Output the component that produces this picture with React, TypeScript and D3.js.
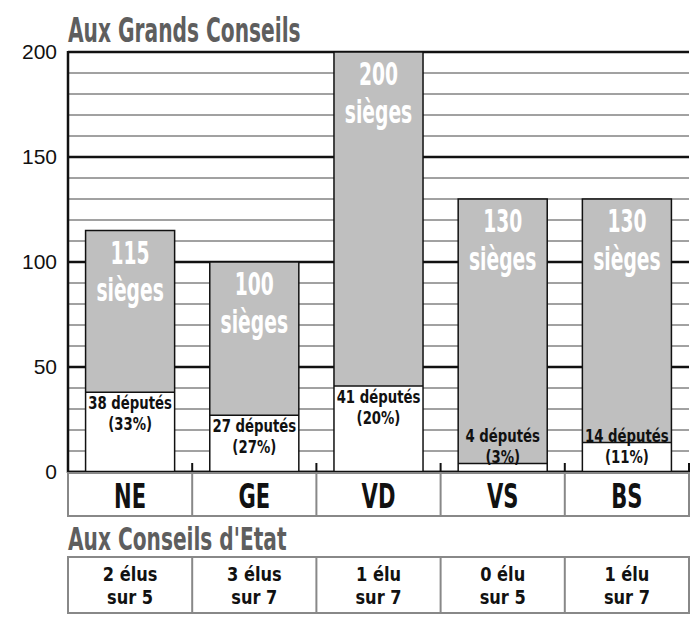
import React from 'react';
import * as d3 from 'd3';

// données
const cantons = ['NE', 'GE', 'VD', 'VS', 'BS'];
const sieges = [115, 100, 200, 130, 130];
const deputes = [38, 27, 41, 4, 14];
const pourcents = ['33%', '27%', '20%', '3%', '11%'];
const elus = [2, 3, 1, 0, 1];
const surTotal = [5, 7, 7, 5, 7];
const yTicks = [0, 50, 100, 150, 200];
const yMinor = d3.range(0, 201, 10);

const W = 692;
const H = 619;
const margin = { left: 68, right: 3, top: 52, bottom: 147 };
const FONT = '"DejaVu Sans Condensed", "DejaVu Sans", sans-serif';

// texte écrasé horizontalement (police "manuscrite" étroite), une ou deux lignes
const Cond = ({ x, y, sx, size, fill = '#111', anchor = 'middle', lines, gap = 0 }) => (
  <text
    transform={`translate(${x},${y}) scale(${sx},1)`}
    textAnchor={anchor}
    fontFamily={FONT}
    fontWeight="bold"
    fontSize={size}
    fill={fill}
  >
    {lines.map((l, k) => (
      <tspan key={k} x={0} dy={k === 0 ? 0 : gap}>{l}</tspan>
    ))}
  </text>
);

export default function App() {
  const x = d3.scaleBand().domain(cantons).range([margin.left, W - margin.right]).padding(0);
  const y = d3.scaleLinear().domain([0, 200]).range([H - margin.bottom, margin.top]);
  const bw = x.bandwidth();
  const barW = bw * 0.717;
  const base = y(0);
  const x0 = margin.left;
  const x1 = W - margin.right;

  return (
    <svg width={W} height={H} style={{ position: 'absolute', left: 0, top: 0, background: '#fff' }}>
      {/* titre */}
      <Cond x={x0} y={42} sx={0.66} size={34} fill="#5e5e5e" anchor="start" lines={['Aux Grands Conseils']} />

      {/* grille */}
      {yMinor.filter(v => v % 50 !== 0).map(v => (
        <line key={'m' + v} x1={x0} x2={x1} y1={y(v)} y2={y(v)} stroke="#444" strokeWidth={1} />
      ))}
      {yTicks.map(v => (
        <line key={'M' + v} x1={x0} x2={x1} y1={y(v)} y2={y(v)} stroke="#111" strokeWidth={2.5} />
      ))}
      <line x1={x0} x2={x0} y1={y(200) - 1} y2={base + 1} stroke="#111" strokeWidth={2.5} />
      {yTicks.map(v => (
        <text key={'t' + v} x={57} y={y(v) + 7} textAnchor="end" fontFamily='"Liberation Sans", Arial, sans-serif' fontSize={21} fill="#111">
          {v}
        </text>
      ))}

      {/* barres */}
      {cantons.map((c, i) => {
        const bx = x(c) + (bw - barW) / 2;
        const cx = x(c) + bw / 2;
        const top = y(sieges[i]);
        const split = y(deputes[i]);
        const l1 = Math.min(split + 17, 442);
        return (
          <g key={c}>
            <rect x={bx} y={top} width={barW} height={split - top} fill="#bfbfbf" />
            <rect x={bx} y={split} width={barW} height={base - split} fill="#fff" />
            <line x1={bx} x2={bx + barW} y1={split} y2={split} stroke="#111" strokeWidth={1.5} />
            <rect x={bx} y={top} width={barW} height={base - top} fill="none" stroke="#111" strokeWidth={1.5} />
            <Cond x={cx} y={top + 33} sx={0.65} size={32} fill="#fff" gap={38} lines={[String(sieges[i]), 'sièges']} />
            <Cond x={cx} y={l1} sx={0.82} size={18} gap={21} lines={[`${deputes[i]} députés`, `(${pourcents[i]})`]} />
          </g>
        );
      })}

      {/* ligne de base et repères */}
      <line x1={x0 - 1} x2={x1} y1={base} y2={base} stroke="#111" strokeWidth={2.5} />
      {cantons.map(c => (
        <line key={'tk' + c} x1={x(c) + bw} x2={x(c) + bw} y1={base - 9} y2={base} stroke="#111" strokeWidth={2} />
      ))}

      {/* rangée des cantons */}
      <rect x={x0} y={base + 1} width={x1 - x0} height={516 - base - 1} fill="none" stroke="#888" strokeWidth={2} />
      {cantons.slice(1).map(c => (
        <line key={'d1' + c} x1={x(c)} x2={x(c)} y1={base} y2={516} stroke="#888" strokeWidth={2} />
      ))}
      {cantons.map(c => (
        <Cond key={'c' + c} x={x(c) + bw / 2} y={508} sx={0.69} size={34} lines={[c]} />
      ))}

      <Cond x={x0} y={550} sx={0.7} size={32} fill="#5e5e5e" anchor="start" lines={["Aux Conseils d'Etat"]} />

      {/* rangée des Conseils d'Etat */}
      <rect x={x0} y={557} width={x1 - x0} height={56} fill="none" stroke="#888" strokeWidth={2} />
      {cantons.slice(1).map(c => (
        <line key={'d2' + c} x1={x(c)} x2={x(c)} y1={557} y2={613} stroke="#888" strokeWidth={2} />
      ))}
      {cantons.map((c, i) => (
        <Cond
          key={'e' + c}
          x={x(c) + bw / 2}
          y={581}
          sx={0.9}
          size={20}
          gap={23.5}
          lines={[`${elus[i]} ${elus[i] > 1 ? 'élus' : 'élu'}`, `sur ${surTotal[i]}`]}
        />
      ))}
    </svg>
  );
}
